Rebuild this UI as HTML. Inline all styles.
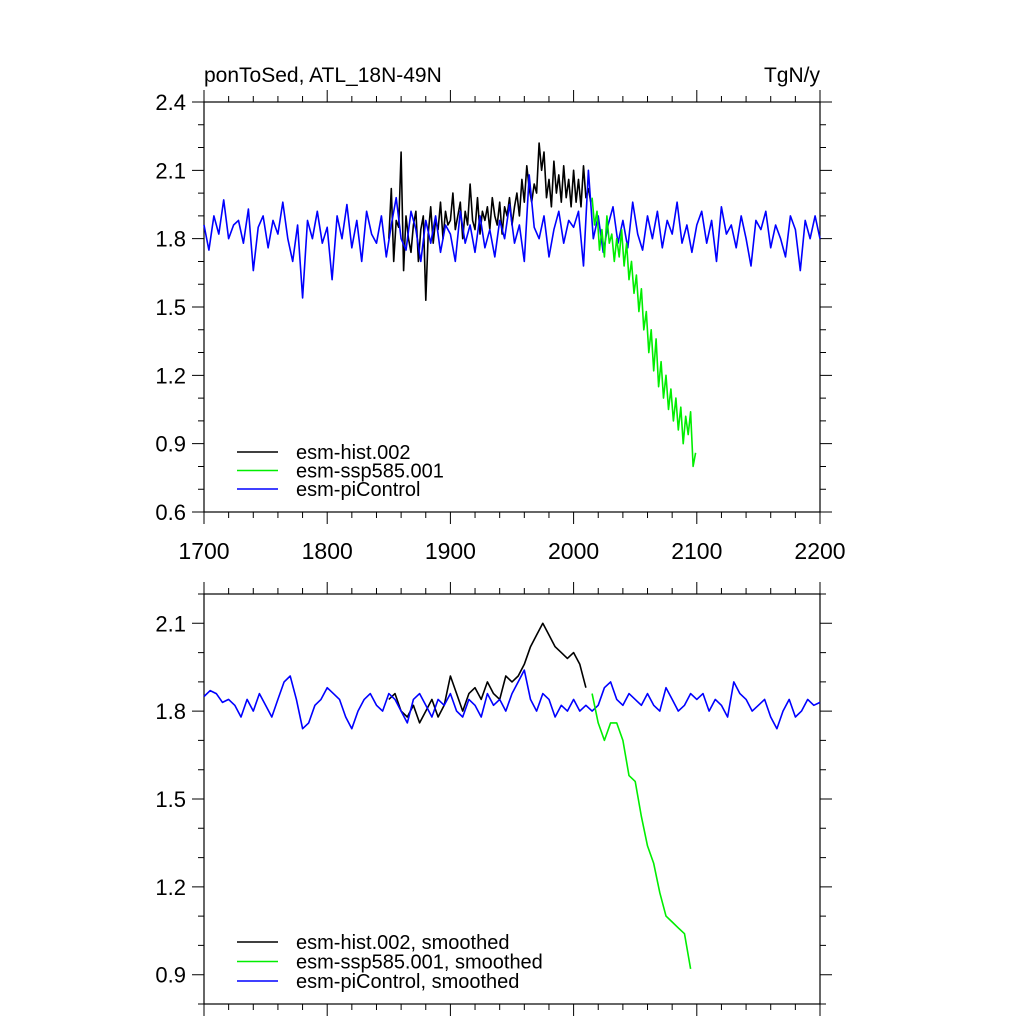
<!DOCTYPE html>
<html><head><meta charset="utf-8">
<style>body{margin:0;background:#fff}svg{display:block;font-family:"Liberation Sans",sans-serif}</style>
</head><body>
<svg id="c" width="1024" height="1024" xmlns="http://www.w3.org/2000/svg"></svg>
<script>
const piTop=[1.86,1.75,1.90,1.82,1.97,1.80,1.86,1.88,1.78,1.93,1.66,1.85,1.90,1.76,1.88,1.82,1.96,1.80,1.70,1.86,1.54,1.88,1.80,1.92,1.78,
1.85,1.62,1.90,1.80,1.95,1.76,1.88,1.70,1.92,1.82,1.78,1.90,1.72,1.86,1.98,1.80,1.75,1.92,1.84,1.70,1.88,1.78,1.90,1.74,1.86,
1.82,1.70,1.92,1.78,1.86,1.74,1.90,1.76,1.84,1.72,1.88,1.80,1.95,1.78,1.86,1.70,2.08,1.85,1.80,1.90,1.72,1.84,1.92,1.78,1.88,
1.85,1.92,1.68,2.10,1.80,1.90,1.74,1.86,1.94,1.78,1.88,1.76,1.96,1.82,1.75,1.90,1.80,1.92,1.76,1.88,1.82,1.96,1.78,1.86,1.74,
1.86,1.92,1.78,1.88,1.70,1.94,1.82,1.86,1.76,1.90,1.80,1.68,1.88,1.84,1.92,1.76,1.86,1.80,1.72,1.90,1.84,1.66,1.88,1.80,1.90,1.80];
const histTop=[1.80,2.02,1.70,1.88,1.85,2.18,1.66,1.90,1.80,1.74,1.86,1.92,1.70,1.84,1.90,1.53,1.82,1.94,1.78,1.88,1.84,1.96,1.80,1.92,1.86,
1.88,2.00,1.84,1.90,1.96,1.80,1.92,1.86,2.04,1.88,1.84,1.98,1.82,1.92,1.88,1.94,1.84,1.98,1.90,1.86,1.96,1.82,1.94,1.90,1.98,
1.86,1.94,2.00,1.90,2.06,1.96,2.12,2.02,1.96,2.04,2.00,2.22,2.10,2.18,1.98,2.06,1.94,2.14,2.00,2.08,1.96,2.12,1.98,2.06,1.94,
2.10,1.96,2.06,1.94,2.12,1.98,2.02,1.96];
const sspTop=[1.98,1.86,1.92,1.75,1.84,1.72,1.90,1.78,1.82,1.70,1.80,1.72,1.84,1.68,1.78,1.62,1.70,1.56,1.64,1.48,
1.58,1.40,1.48,1.30,1.40,1.22,1.36,1.15,1.26,1.10,1.20,1.05,1.14,1.00,1.10,0.96,1.06,0.90,1.02,0.94,1.04,0.80,0.86];
const piSm=[1.85,1.87,1.86,1.83,1.84,1.82,1.78,1.84,1.80,1.86,1.82,1.78,1.84,1.90,1.92,1.84,1.74,1.76,1.82,1.84,
1.88,1.86,1.84,1.78,1.74,1.80,1.84,1.86,1.82,1.80,1.86,1.84,1.80,1.76,1.84,1.86,1.82,1.78,1.84,1.82,
1.86,1.80,1.78,1.84,1.82,1.78,1.86,1.82,1.84,1.80,1.86,1.90,1.94,1.84,1.80,1.86,1.84,1.78,1.82,1.80,
1.84,1.80,1.82,1.80,1.82,1.88,1.90,1.84,1.82,1.86,1.84,1.82,1.86,1.82,1.80,1.88,1.84,1.80,1.82,1.86,
1.84,1.86,1.80,1.84,1.82,1.78,1.90,1.86,1.84,1.80,1.82,1.84,1.78,1.74,1.80,1.84,1.78,1.80,1.84,1.82,1.83];
const histSm=[1.84,1.86,1.80,1.78,1.82,1.76,1.80,1.84,1.78,1.82,1.92,1.86,1.80,1.86,1.88,1.84,1.90,1.86,1.84,1.92,
1.90,1.92,1.96,2.02,2.06,2.10,2.06,2.02,2.00,1.98,2.00,1.96,1.88];
const sspSm=[1.86,1.76,1.70,1.76,1.76,1.70,1.58,1.56,1.44,1.34,1.28,1.18,1.10,1.08,1.06,1.04,0.92];
const xTicks=[1700,1800,1900,2000,2100,2200];
const yTicksTop=[0.6,0.9,1.2,1.5,1.8,2.1,2.4];
const yTicksBot=[0.9,1.2,1.5,1.8,2.1];

const svg=document.getElementById('c');const NS='http://www.w3.org/2000/svg';
function mk(t,a,p){const e=document.createElementNS(NS,t);for(const k in a)e.setAttribute(k,a[k]);(p||svg).appendChild(e);return e;}
const X0=204,X1=820;
const sx=y=>X0+(y-1700)/500*(X1-X0);
const P=[{top:102,bot:512,lo:0.6,hi:2.4,ticks:yTicksTop,labels:true},{top:594,bot:1004,lo:0.8,hi:2.2,ticks:yTicksBot,labels:false}];
P.forEach((p,i)=>{
 const sy=v=>p.bot-(v-p.lo)/(p.hi-p.lo)*(p.bot-p.top);p.sy=sy;
 const g=mk('g',{});
 
 
 const f=mk('rect',{x:X0,y:p.top,width:X1-X0,height:p.bot-p.top,fill:'none',stroke:'#000','stroke-width':1.2},g);
 
 let d='';
 for(let yr=1700;yr<=2200;yr+=20){const x=sx(yr),L=(yr%100==0)?12:6;d+=`M${x},${p.bot}v${L}M${x},${p.top}v${-L}`;}
 for(let v=Math.ceil(p.lo*10-1e-6);v<=p.hi*10+1e-6;v++){const y=sy(v/10),L=(v%3==0)?12:6;d+=`M${X0},${y}h${-L}M${X1},${y}h${L}`;}
 const tk=mk('path',{d:d,stroke:'#000','stroke-width':1,fill:'none'},g);
 
 p.ticks.forEach(v=>{const t=mk('text',{x:X0-18,y:sy(v)+8,'text-anchor':'end','font-size':22},g);t.textContent=v.toFixed(1);
  });
 if(p.labels)xTicks.forEach(yr=>{const t=mk('text',{x:sx(yr),y:559,'text-anchor':'middle','font-size':23},g);t.textContent=yr;
  });
});
function line(arr,start,step,p,col,name){
 const pts=arr.map((v,i)=>sx(start+i*step).toFixed(1)+','+p.sy(v).toFixed(1)).join(' ');
 const e=mk('polyline',{points:pts,fill:'none',stroke:col,'stroke-width':1.6,'stroke-linejoin':'round'});
 
 
}
line(histTop,1850,2,P[0],'#000','hist-line');
line(piTop,1700,4,P[0],'#0000ff','picontrol-line');
line(sspTop,2015,2,P[0],'#00ee00','ssp585-line');
line(histSm,1850,5,P[1],'#000','hist-smoothed-line');
line(piSm,1700,5,P[1],'#0000ff','picontrol-smoothed-line');
line(sspSm,2015,5,P[1],'#00ee00','ssp585-smoothed-line');
const t1=mk('text',{x:204,y:82,'font-size':21});t1.textContent='ponToSed, ATL_18N-49N';

const t2=mk('text',{x:820,y:82,'font-size':21,'text-anchor':'end'});t2.textContent='TgN/y';

function legend(y0,dy,labels){
 const cols=['#000','#00ee00','#0000ff'];
 labels.forEach((s,i)=>{const y=y0+i*dy;
  const l=mk('line',{x1:237,x2:278,y1:y,y2:y,stroke:cols[i],'stroke-width':1.6});
  
  const t=mk('text',{x:296,y:y+7,'font-size':20});t.textContent=s;
  });
}
legend(452,18.5,['esm-hist.002','esm-ssp585.001','esm-piControl']);
legend(942,19.5,['esm-hist.002, smoothed','esm-ssp585.001, smoothed','esm-piControl, smoothed']);
</script>
</body></html>
